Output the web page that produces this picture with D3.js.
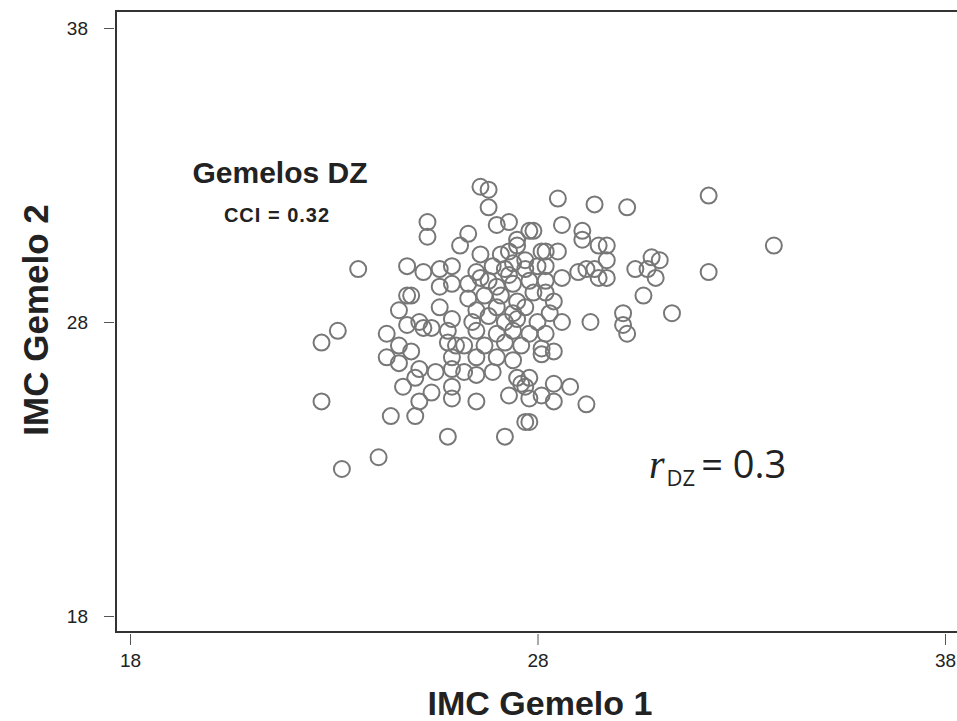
<!DOCTYPE html>
<html lang="es">
<head>
<meta charset="UTF-8">
<title>IMC Gemelos DZ</title>
<script src="https://d3js.org/d3.v7.min.js"></script>
<style>
    body { margin: 0; background: #fff; }
    svg { display: block; }
    svg text { font-family: 'Liberation Sans', Arial, sans-serif; fill: #222; }
</style>
</head>
<body>
<svg></svg>
<script>
    // IMC (BMI) of twin 1 and twin 2
    const twin1 = [26.6, 26.8, 26.8, 28.5, 29.4, 30.2, 32.2, 33.8, 25.3, 25.3, 27.0, 27.3, 26.3, 26.1, 27.5, 27.8, 27.9, 28.6, 29.1, 29.1,
        29.5, 29.7, 23.6, 24.8, 25.2, 25.6, 25.9, 26.6, 27.1, 27.3, 27.7, 28.2, 28.5, 29.7, 30.4, 30.8, 31.0, 30.7, 32.2, 29.2,
        29.4, 29.5, 29.7, 30.9, 30.6, 30.1, 30.1, 30.2, 29.3, 31.3, 24.8, 24.9, 24.6, 25.6, 25.9, 25.6, 23.1, 22.7, 24.3, 24.8,
        25.1, 25.2, 25.4, 25.8, 25.8, 24.3, 24.6, 24.9, 24.6, 25.1, 25.5, 25.9, 25.9, 26.0, 22.7, 24.4, 25.0, 24.7, 25.8, 24.1,
        23.2, 25.1, 25.4, 25.9, 25.0, 26.5, 26.9, 25.9, 26.5, 27.3, 27.6, 27.7, 27.8, 28.1, 28.4, 28.4, 28.8, 29.2, 27.8, 27.7,
        27.2, 27.5, 28.1, 26.5, 26.6, 27.3, 27.7, 28.0, 28.2, 29.0, 27.0, 27.4, 27.8, 28.2, 28.6, 26.3, 26.7, 27.1, 27.5, 27.9,
        28.2, 28.4, 26.5, 27.0, 27.4, 27.7, 28.3, 26.4, 26.8, 27.2, 27.5, 28.0, 28.6, 26.5, 27.0, 27.4, 27.8, 28.2, 26.2, 26.7,
        27.2, 27.6, 28.1, 28.4, 26.5, 27.0, 27.4, 28.1, 26.2, 27.5, 27.8, 26.9, 27.4, 26.3, 26.8, 27.2, 25.9];
    const twin2 = [32.6, 32.5, 31.9, 32.2, 32.0, 31.9, 32.3, 30.6, 31.4, 30.9, 31.3, 31.4, 31.0, 30.6, 30.8, 31.1, 31.1, 31.3, 31.1, 30.8,
        30.6, 30.6, 29.8, 29.9, 29.7, 29.8, 29.9, 30.3, 30.3, 30.4, 30.1, 30.4, 30.4, 30.1, 29.8, 30.2, 30.1, 29.8, 29.7, 29.8,
        29.8, 29.5, 29.5, 29.5, 28.9, 28.3, 27.9, 27.6, 28.0, 28.3, 28.9, 28.9, 28.4, 28.5, 29.3, 29.2, 27.7, 27.3, 27.6, 27.9,
        28.0, 27.8, 27.8, 27.7, 27.3, 26.8, 27.2, 27.0, 26.6, 26.4, 26.3, 26.4, 26.8, 27.2, 25.3, 24.8, 24.8, 25.8, 24.1, 23.4,
        23.0, 25.3, 25.6, 25.4, 26.1, 26.2, 26.3, 25.8, 25.3, 25.5, 25.9, 25.8, 25.4, 25.5, 25.9, 25.3, 25.8, 25.2, 24.6, 24.6,
        24.1, 30.6, 30.4, 29.7, 29.5, 29.6, 29.8, 29.9, 29.9, 29.7, 29.2, 29.3, 29.4, 29.4, 29.5, 28.8, 28.9, 28.9, 28.7, 29.0,
        29.0, 28.7, 28.4, 28.5, 28.3, 28.5, 28.3, 28.0, 28.2, 28.0, 28.1, 28.0, 28.0, 27.7, 27.6, 27.7, 27.6, 27.6, 27.2, 27.2,
        27.3, 27.2, 27.1, 27.0, 26.8, 26.8, 26.7, 26.9, 26.3, 26.1, 26.1, 29.9, 30.0, 29.3, 29.4, 29.8, 28.1];
    const tickValues = [18, 28, 38];

    const width = 957, height = 721;
    const svg = d3.select("svg").attr("width", width).attr("height", height);

    const x = d3.scaleLinear().domain([18, 38]).range([130, 945]);
    const y = d3.scaleLinear().domain([18, 38]).range([616, 28]);

    // frame (right side runs off the picture)
    svg.append("rect")
        .attr("x", 116).attr("y", 11)
        .attr("width", 860).attr("height", 621)
        .attr("fill", "none").attr("stroke", "#333").attr("stroke-width", 2);

    const yAxis = svg.append("g")
        .attr("transform", "translate(114,0)")
        .call(d3.axisLeft(y).tickValues(tickValues).tickSize(10).tickPadding(16));
    yAxis.select(".domain").remove();
    yAxis.selectAll("line").attr("stroke", "#555");
    yAxis.selectAll("text").attr("font-size", 19).attr("fill", "#222")
        .style("font-family", "'Liberation Sans', Arial, sans-serif");

    const xAxis = svg.append("g")
        .attr("transform", "translate(0,634)")
        .call(d3.axisBottom(x).tickValues(tickValues).tickSize(11).tickPadding(9));
    xAxis.select(".domain").remove();
    xAxis.selectAll("line").attr("stroke", "#555");
    xAxis.selectAll("text").attr("font-size", 19).attr("fill", "#222")
        .style("font-family", "'Liberation Sans', Arial, sans-serif");

    // points
    svg.append("g").selectAll("circle")
        .data(twin1.map((d, i) => [d, twin2[i]]))
        .join("circle")
        .attr("cx", d => x(d[0]))
        .attr("cy", d => y(d[1]))
        .attr("r", 8)
        .attr("fill", "none")
        .attr("stroke", "#777")
        .attr("stroke-width", 2);

    // titles
    svg.append("text")
        .attr("x", 540).attr("y", 715)
        .attr("text-anchor", "middle")
        .attr("font-size", 34).attr("font-weight", "bold")
        .text("IMC Gemelo 1");

    svg.append("text")
        .attr("transform", "translate(48,320) rotate(-90)")
        .attr("text-anchor", "middle")
        .attr("font-size", 35).attr("font-weight", "bold")
        .text("IMC Gemelo 2");

    svg.append("text")
        .attr("x", 280).attr("y", 183)
        .attr("text-anchor", "middle")
        .attr("font-size", 30).attr("font-weight", "bold")
        .text("Gemelos DZ");

    svg.append("text")
        .attr("x", 277).attr("y", 222)
        .attr("text-anchor", "middle")
        .attr("font-size", 20).attr("font-weight", "bold")
        .attr("letter-spacing", 1)
        .text("CCI = 0.32");

    // r_DZ = 0.3
    const rt = svg.append("text")
        .attr("x", 649).attr("y", 478)
        .attr("font-size", 38);
    rt.append("tspan")
        .style("font-family", "'Liberation Serif', 'DejaVu Serif', serif")
        .attr("font-style", "italic")
        .attr("font-size", 40)
        .text("r");
    rt.append("tspan")
        .attr("dy", 8).attr("dx", 2).attr("font-size", 22)
        .style("font-family", "'Open Sans', 'Noto Sans', sans-serif")
        .text("DZ");
    rt.append("tspan")
        .attr("dy", -8).attr("dx", 6)
        .style("font-family", "'Open Sans', 'Noto Sans', sans-serif")
        .text("= 0.3");
</script>
</body>
</html>
